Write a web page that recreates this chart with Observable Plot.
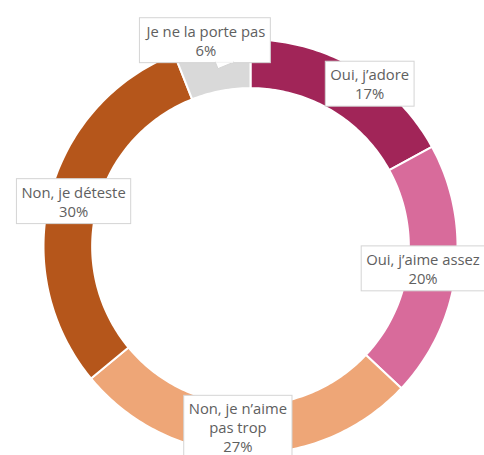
<!DOCTYPE html>
<html><head><meta charset="utf-8">
<script src="https://cdn.jsdelivr.net/npm/d3@7"></script>
<script src="https://cdn.jsdelivr.net/npm/@observablehq/plot@0.6"></script>
<style>html,body{margin:0;padding:0;background:#fff;overflow:hidden}</style>
</head><body><div id="chart"></div>
<script>
// ---- data ----
const categories = ["Oui, j’adore", "Oui, j’aime assez", "Non, je n’aime pas trop", "Non, je déteste", "Je ne la porte pas"];
const values = [17, 20, 27, 30, 6];
const labelLines = ["Oui, j’adore", "Oui, j’aime assez", "Non, je n’aime\npas trop", "Non, je déteste", "Je ne la porte pas"];
const colors = ["#a12558", "#d86b9b", "#eea677", "#b5561b", "#d9d9d9"];

// ---- layout ----
const rOuter = 1, rInner = 0.765, rMid = (rOuter + rInner) / 2;
const labelNudge = {
  "Oui, j’adore": {r: 0.975, da: 5.6},
  "Oui, j’aime assez": {r: 0.84, da: 0},
  "Je ne la porte pas": {r: 1.02, da: -1.4},
  "Non, je n’aime pas trop": {r: 0.875, da: 2.2}
};

const total = d3.sum(values);
let acc = 0;
const slices = categories.map((c, i) => {
  const a0 = acc / total * 2 * Math.PI; acc += values[i];
  const a1 = acc / total * 2 * Math.PI;
  return {c, v: values[i], a0, a1, color: colors[i], label: labelLines[i] + "\n" + values[i] + "%"};
});

function slicePoints(s) {
  const n = Math.max(2, Math.ceil((s.a1 - s.a0) / (Math.PI / 180)));
  const pts = [];
  for (let k = 0; k <= n; k++) { const a = s.a0 + (s.a1 - s.a0) * k / n; pts.push({x: rOuter * Math.sin(a), y: rOuter * Math.cos(a)}); }
  for (let k = n; k >= 0; k--) { const a = s.a0 + (s.a1 - s.a0) * k / n; pts.push({x: rInner * Math.sin(a), y: rInner * Math.cos(a)}); }
  pts.push(pts[0]);
  return pts;
}

const labels = slices.map(s => {
  const nud = labelNudge[s.c] || {r: rMid, da: 0};
  const a = (s.a0 + s.a1) / 2 + nud.da * Math.PI / 180;
  return {c: s.c, text: s.label, x: nud.r * Math.sin(a), y: nud.r * Math.cos(a)};
});

const plot = Plot.plot({
  width: 484, height: 455, margin: 0,
  x: {domain: [-1, 1], range: [43, 457], axis: null},
  y: {domain: [-1, 1], range: [453, 39], axis: null},
  style: {background: "#fff", overflow: "visible"},
  marks: [
    ...slices.map(s => Plot.line(slicePoints(s), {x: "x", y: "y", fill: s.color, stroke: "#fff", strokeWidth: 2, curve: "linear"})),
    Plot.text(labels, {x: "x", y: "y", text: "text", fill: "#606060", fontSize: 14.8, fontFamily: "'Open Sans', sans-serif", lineHeight: 1.28, lineAnchor: "middle", textAnchor: "middle"})
  ]
});
document.getElementById("chart").appendChild(plot);

// draw label boxes behind the texts
d3.select(plot).selectAll('g[aria-label="text"] > text').each(function (d, i) {
  const bb = this.getBBox();
  const px = 5, py = 3;
  const parent = this.parentNode;
  const tr = this.getAttribute("transform");
  const g = document.createElementNS("http://www.w3.org/2000/svg", "g");
  if (tr) g.setAttribute("transform", tr);
  parent.insertBefore(g, this);
  d3.select(g).append("rect")
    .attr("x", bb.x - px).attr("y", bb.y - py)
    .attr("width", bb.width + 2 * px).attr("height", bb.height + 2 * py)
    .attr("fill", "#fff").attr("stroke", "#d4d4d4").attr("stroke-width", 1);
  if (labels[i] && labels[i].c === "Je ne la porte pas") {
    const b = bb.y + bb.height + py, l = bb.x - px, w = bb.width + 2 * px;
    d3.select(g).append("path")
      .attr("d", `M${l + w * 0.58},${b - 0.5}L${l + w * 0.6},${b + 6}L${l + w * 0.72},${b - 0.5}Z`)
      .attr("fill", "#fff").attr("stroke", "#d4d4d4");
    d3.select(g).append("rect").attr("x", l + w * 0.58 + 0.5).attr("y", b - 1.5).attr("width", w * 0.14 - 1).attr("height", 1.5).attr("fill", "#fff");
  }
});
</script>
</body></html>
